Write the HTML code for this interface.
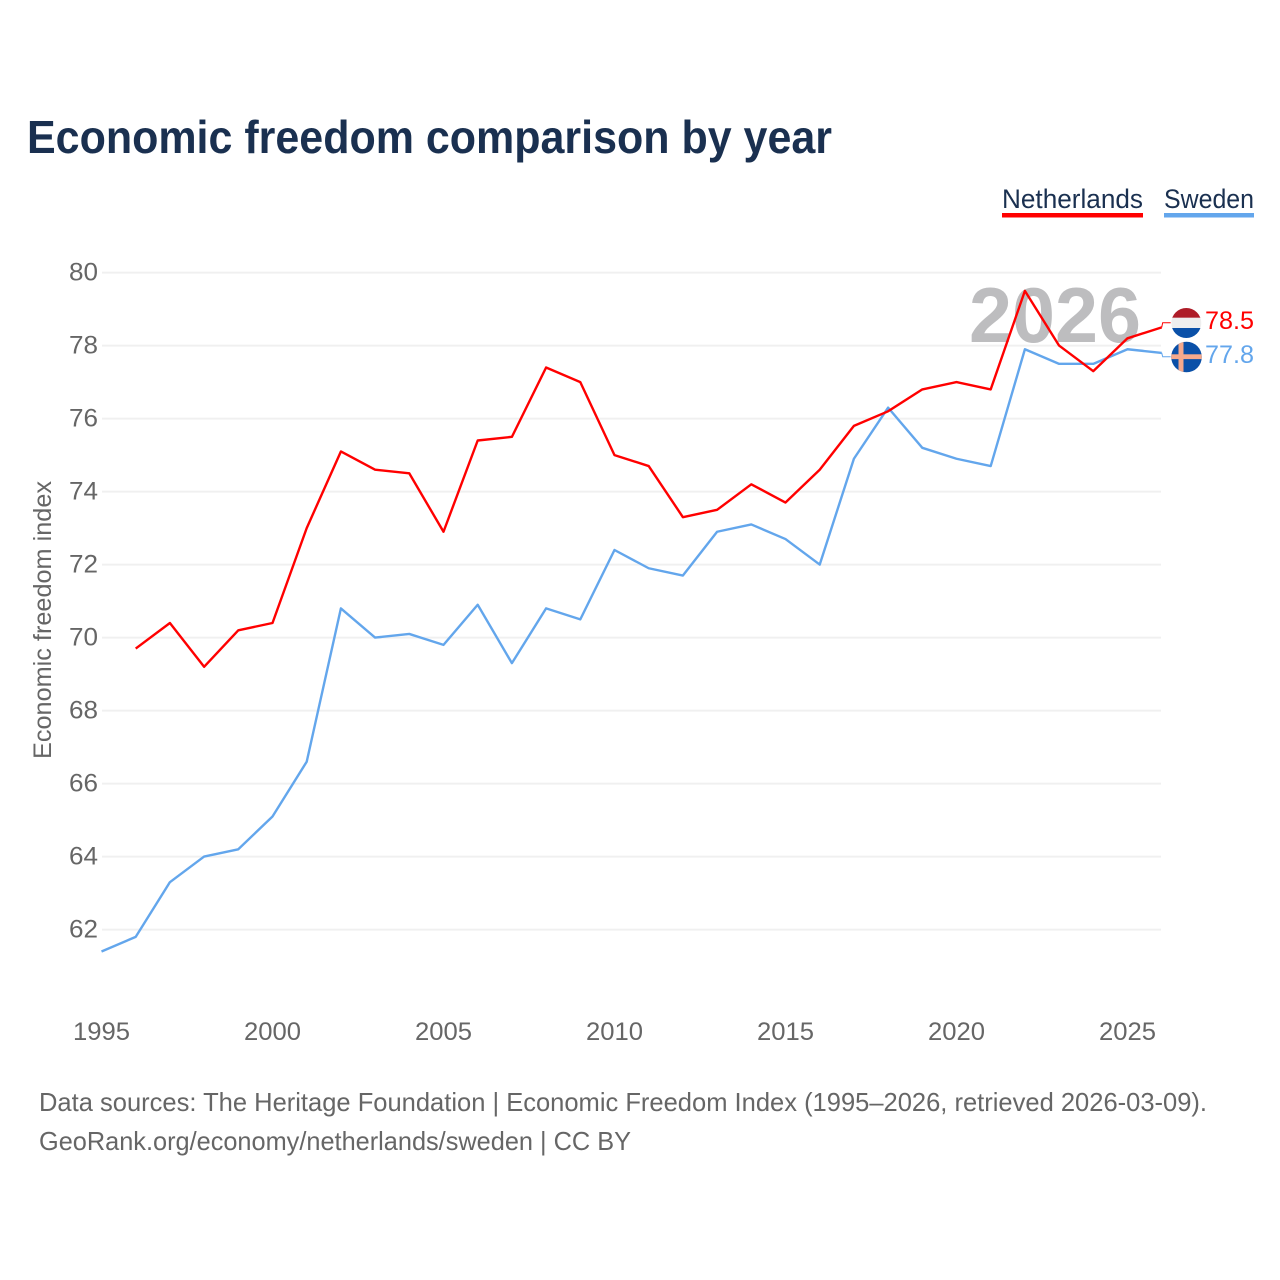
<!DOCTYPE html>
<html lang="en">
<head>
<meta charset="utf-8">
<title>Economic freedom comparison by year</title>
<style>
html,body{margin:0;padding:0;background:#fff;width:1280px;height:1280px;overflow:hidden}
svg{display:block}
text{font-family:"Liberation Sans",sans-serif}
</style>
</head>
<body>
<svg id="chart" xmlns="http://www.w3.org/2000/svg" width="1280" height="1280" viewBox="0 0 1280 1280">
  <defs>
    <clipPath id="clip-nl"><circle cx="1186.3" cy="323" r="15"/></clipPath>
    <clipPath id="clip-se"><circle cx="1186.5" cy="357" r="15.3"/></clipPath>
  </defs>
  <text x="27" y="153" font-size="46" font-weight="700" fill="#1a3050" textLength="805" lengthAdjust="spacingAndGlyphs">Economic freedom comparison by year</text>

  <g>
    <g>
      <text x="1002" y="208" font-size="27" fill="#1a3050" textLength="141" lengthAdjust="spacingAndGlyphs">Netherlands</text>
      <rect x="1002" y="213" width="141" height="4.5" fill="#ff0000"/>
    </g>
    <g>
      <text x="1164" y="208" font-size="27" fill="#1a3050" textLength="90" lengthAdjust="spacingAndGlyphs">Sweden</text>
      <rect x="1164" y="213" width="90" height="4.5" fill="#63a6ec"/>
    </g>
  </g>

  <g id="grid"></g>
  <g id="y-ticks"></g>
  <g id="x-ticks"></g>
  <text transform="translate(51,759) rotate(-90)" font-size="25" fill="#666666" textLength="278" lengthAdjust="spacingAndGlyphs">Economic freedom index</text>

  <text id="year-watermark" x="969" y="342" font-size="78" font-weight="700" fill="#bdbdbf" textLength="172" lengthAdjust="spacingAndGlyphs"></text>

  <g id="series"></g>
  <g id="leaders"></g>

  <g clip-path="url(#clip-nl)">
    <rect x="1170" y="307" width="33" height="10.8" fill="#ae1c28"/>
    <rect x="1170" y="317.8" width="33" height="10.2" fill="#eeeeee"/>
    <rect x="1170" y="328" width="33" height="11" fill="#0a50a8"/>
  </g>
  <g clip-path="url(#clip-se)">
    <rect x="1170" y="341" width="33" height="33" fill="#0a50a8"/>
    <rect x="1170" y="354.3" width="33" height="4.8" fill="#f5a98c"/>
    <rect x="1178.5" y="341" width="5" height="33" fill="#f5a98c"/>
  </g>

  <g id="end-labels"></g>

  <g>
    <text x="39" y="1111" font-size="26" fill="#666666" textLength="1168" lengthAdjust="spacingAndGlyphs">Data sources: The Heritage Foundation | Economic Freedom Index (1995–2026, retrieved 2026-03-09).</text>
    <text x="39" y="1150" font-size="26" fill="#666666" textLength="592" lengthAdjust="spacingAndGlyphs">GeoRank.org/economy/netherlands/sweden | CC BY</text>
  </g>
</svg>
<script>
const years = [1995,1996,1997,1998,1999,2000,2001,2002,2003,2004,2005,2006,2007,2008,2009,2010,2011,2012,2013,2014,2015,2016,2017,2018,2019,2020,2021,2022,2023,2024,2025,2026];
const netherlands = [null,69.7,70.4,69.2,70.2,70.4,73.0,75.1,74.6,74.5,72.9,75.4,75.5,77.4,77.0,75.0,74.7,73.3,73.5,74.2,73.7,74.6,75.8,76.2,76.8,77.0,76.8,79.5,78.0,77.3,78.2,78.5];
const sweden = [61.4,61.8,63.3,64.0,64.2,65.1,66.6,70.8,70.0,70.1,69.8,70.9,69.3,70.8,70.5,72.4,71.9,71.7,72.9,73.1,72.7,72.0,74.9,76.3,75.2,74.9,74.7,77.9,77.5,77.5,77.9,77.8];
const yTickValues = [62,64,66,68,70,72,74,76,78,80];
const xTickValues = [1995,2000,2005,2010,2015,2020,2025];

const NS = 'http://www.w3.org/2000/svg';
const RED = '#ff0000';
const BLUE = '#63a6ec';

function xScale(year) { return 101.5 + (year - 1995) * 34.2; }
function yScale(value) { return 272.6 + (80 - value) * 36.5; }
function make(tag, attrs, parent, content) {
  const el = document.createElementNS(NS, tag);
  for (const key in attrs) el.setAttribute(key, attrs[key]);
  if (content !== undefined) el.textContent = content;
  parent.appendChild(el);
  return el;
}

const grid = document.getElementById('grid');
const yTicks = document.getElementById('y-ticks');
yTickValues.forEach(function (v) {
  const line = make('line', {x1: 102, x2: 1161, y1: yScale(v), y2: yScale(v), stroke: '#f0f0f0', 'stroke-width': 2}, grid);
  
  
  const label = make('text', {x: 98, y: yScale(v) + 8, 'font-size': 25, fill: '#666666', 'text-anchor': 'end', textLength: 29, lengthAdjust: 'spacingAndGlyphs'}, yTicks, String(v));
  
  
});

const xTicks = document.getElementById('x-ticks');
xTickValues.forEach(function (y) {
  const label = make('text', {x: xScale(y), y: 1040, 'font-size': 25, fill: '#666666', 'text-anchor': 'middle', textLength: 57, lengthAdjust: 'spacingAndGlyphs'}, xTicks, String(y));
  
  
});

function pathFor(values) {
  let d = '';
  values.forEach(function (v, i) {
    if (v === null) return;
    d += (d ? 'L' : 'M') + xScale(years[i]).toFixed(2) + ' ' + yScale(v).toFixed(2);
  });
  return d;
}

const seriesGroup = document.getElementById('series');
const lineSweden = make('path', {d: pathFor(sweden), fill: 'none', stroke: BLUE, 'stroke-width': 2.4, 'stroke-linejoin': 'round'}, seriesGroup);


const lineNetherlands = make('path', {d: pathFor(netherlands), fill: 'none', stroke: RED, 'stroke-width': 2.4, 'stroke-linejoin': 'round'}, seriesGroup);



const lastIndex = years.length - 1;
document.getElementById('year-watermark').textContent = String(years[lastIndex]);

const leaders = document.getElementById('leaders');
const endLabels = document.getElementById('end-labels');
const nlEndY = yScale(netherlands[lastIndex]);
const seEndY = yScale(sweden[lastIndex]);
const endX = xScale(years[lastIndex]);

const leaderNl = make('path', {d: 'M' + endX + ' ' + nlEndY + 'L' + (endX + 1) + ' 322.7L' + (endX + 9) + ' 322.7', fill: 'none', stroke: RED, 'stroke-width': 1}, leaders);


const leaderSe = make('path', {d: 'M' + endX + ' ' + seEndY + 'L' + (endX + 1) + ' 356.7L' + (endX + 9) + ' 356.7', fill: 'none', stroke: BLUE, 'stroke-width': 1}, leaders);



const valueNl = make('text', {x: 1205, y: 329, 'font-size': 25, fill: RED, textLength: 49, lengthAdjust: 'spacingAndGlyphs'}, endLabels, netherlands[lastIndex].toFixed(1));


const valueSe = make('text', {x: 1205, y: 363, 'font-size': 25, fill: BLUE, textLength: 49, lengthAdjust: 'spacingAndGlyphs'}, endLabels, sweden[lastIndex].toFixed(1));


</script>
</body>
</html>
